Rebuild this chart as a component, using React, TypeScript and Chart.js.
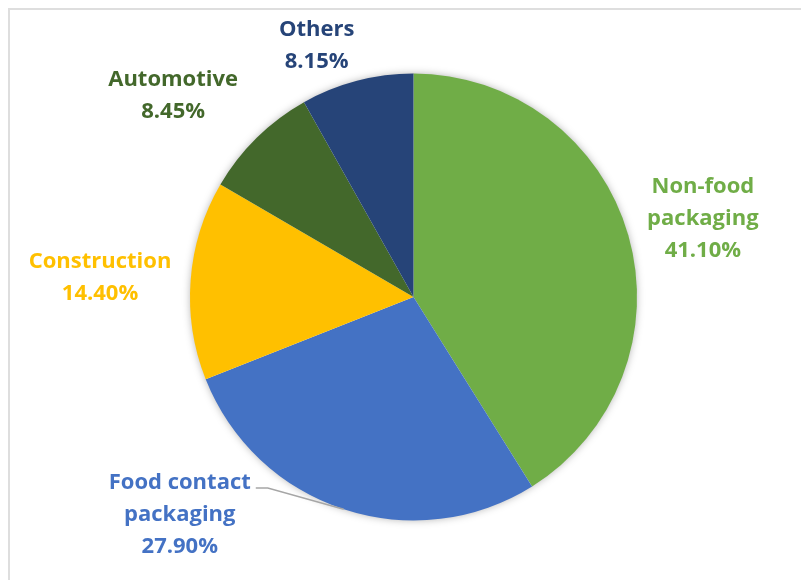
import React, { useEffect, useRef } from "react";
import { Chart, ArcElement, PieController } from "chart.js";

Chart.register(ArcElement, PieController);

const categories = ["Non-food packaging", "Food contact packaging", "Construction", "Automotive", "Others"];
const labelLines = [["Non-food", "packaging"], ["Food contact", "packaging"], ["Construction"], ["Automotive"], ["Others"]];
const shares = [41.1, 27.9, 14.4, 8.45, 8.15];
const percentLabels = ["41.10%", "27.90%", "14.40%", "8.45%", "8.15%"];
const colors = ["#70AD47", "#4472C4", "#FFC000", "#43682B", "#264478"];

// label placement: angle (deg clockwise from top) and distance as multiple of radius
const labelAngles = [74.9, 227.0, 273.5, 309.9, 338.9];
const labelDistances = [1.341, 1.43, 1.405, 1.402, 1.204];
const leaderLines = [false, true, false, false, false];

const FONT = "bold 22px 'Open Sans'";
const LINE_H = 32;

const framePlugin = {
  id: "frame",
  beforeDraw(chart: any) {
    const ctx = chart.ctx;
    ctx.save();
    ctx.fillStyle = "#ffffff";
    ctx.fillRect(0, 0, chart.width, chart.height);
    ctx.fillStyle = "#dedede";
    ctx.fillRect(0, 0, chart.width, 2);
    ctx.fillRect(0, 0, 2, chart.height);
    ctx.restore();
  },
  beforeDatasetsDraw(chart: any) {
    const arc = chart.getDatasetMeta(0).data[0];
    if (!arc) return;
    const { x, y, outerRadius } = arc.getProps(["x", "y", "outerRadius"], true);
    const ctx = chart.ctx;
    ctx.save();
    ctx.shadowColor = "rgba(0,0,0,0.35)";
    ctx.shadowBlur = 8;
    ctx.fillStyle = "#ffffff";
    ctx.beginPath();
    ctx.arc(x, y, outerRadius - 1, 0, Math.PI * 2);
    ctx.fill();
    ctx.restore();
  },
  afterDatasetsDraw(chart: any) {
    const meta = chart.getDatasetMeta(0);
    const ctx = chart.ctx;
    ctx.save();
    ctx.font = FONT;
    ctx.textAlign = "center";
    ctx.textBaseline = "middle";
    meta.data.forEach((arc: any, i: number) => {
      const { x, y, outerRadius, startAngle, endAngle } = arc.getProps(
        ["x", "y", "outerRadius", "startAngle", "endAngle"],
        true
      );
      const a = ((labelAngles[i] - 90) * Math.PI) / 180;
      const cx = x + Math.cos(a) * outerRadius * labelDistances[i];
      const cy = y + Math.sin(a) * outerRadius * labelDistances[i];
      const lines = [...labelLines[i], percentLabels[i]];
      const top = cy - ((lines.length - 1) * LINE_H) / 2;
      ctx.fillStyle = colors[i];
      lines.forEach((t, j) => ctx.fillText(t, cx, top + j * LINE_H));
      if (leaderLines[i]) {
        const mid = (startAngle + endAngle) / 2;
        const ex = x + Math.cos(mid) * outerRadius;
        const ey = y + Math.sin(mid) * outerRadius;
        const w = ctx.measureText(lines[0]).width;
        const sx = cx + w / 2 + 5;
        const sy = top + 5;
        ctx.strokeStyle = "#a6a6a6";
        ctx.lineWidth = 1.5;
        ctx.beginPath();
        ctx.moveTo(sx, sy);
        ctx.lineTo(sx + 12, sy);
        ctx.lineTo(ex, ey);
        ctx.stroke();
      }
    });
    ctx.restore();
  },
};

export default function App() {
  const ref = useRef<HTMLCanvasElement | null>(null);
  useEffect(() => {
    if (!ref.current) return;
    const chart = new Chart(ref.current, {
      type: "pie",
      data: {
        labels: categories,
        datasets: [
          {
            data: shares,
            backgroundColor: colors,
            borderWidth: 0,
          },
        ],
      },
      options: {
        responsive: false,
        animation: false,
        layout: { padding: { left: 177, right: 167, top: 65.5, bottom: 59.5 } },
        plugins: {
          legend: { display: false },
          tooltip: { enabled: false },
        },
      },
      plugins: [framePlugin],
    });
    return () => chart.destroy();
  }, []);
  return (
    <div style={{ width: 801, height: 572 }}>
      <canvas ref={ref} width={801} height={572} style={{ display: "block" }} />
    </div>
  );
}
